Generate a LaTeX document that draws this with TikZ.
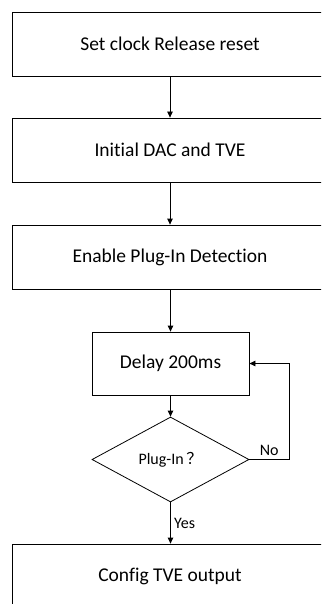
\documentclass[tikz,border=0pt]{standalone}
\usepackage{fontspec}
\setmainfont[Ligatures=NoCommon]{Carlito}
\newfontfamily\cjk{Noto Sans CJK SC}
\usetikzlibrary{shapes.geometric, arrows.meta, positioning}

\begin{document}
\begin{tikzpicture}[x=1pt, y=-1pt, line width=0.8pt,
    font=\fontsize{19.5}{22}\selectfont,
    >={Triangle[length=6pt, width=5.5pt]},
    widebox/.style={draw, minimum width=315pt, minimum height=64pt, inner sep=0pt},
    delaybox/.style={draw, minimum width=157pt, minimum height=63pt, inner sep=0pt},
    decision/.style={draw, diamond, minimum width=157pt, minimum height=85pt, inner sep=0pt,
      font=\fontsize{16}{18}\selectfont},
    lbl/.style={font=\fontsize{16}{18}\selectfont}]
  \useasboundingbox (0,0) rectangle (321,604);
  \clip (0,0) rectangle (321,604);

  % Steps
  \node[widebox] (clk) at (170,44) {Set clock Release reset};
  \node[widebox] (dac) at (170,150) {Initial DAC and TVE};
  \node[widebox] (det) at (170,257) {Enable Plug-In Detection};
  \node[delaybox] (dly) at (170.5,363.5) {Delay 200ms};
  \node[decision] (plug) at (170.5,459.5) {Plug-In\,\cjk{？}};
  \node[widebox] (tve) at (170,576) {Config TVE output};

  % Flow
  \draw[->] (clk) -- (dac);
  \draw[->] (dac) -- (det);
  \draw[->] (det.south -| dly) -- (dly);
  \draw[->] (dly) -- (plug);
  \draw[->] (plug.south) -- (plug.south |- tve.north) node[lbl, midway, right] {Yes};

  % Loop back
  \coordinate (back) at (289,0);
  \draw[->] (plug.east) -- (plug.east -| back) node[lbl, midway, above] {No}
    -- (dly.east -| back) -- (dly.east);
\end{tikzpicture}
\end{document}
